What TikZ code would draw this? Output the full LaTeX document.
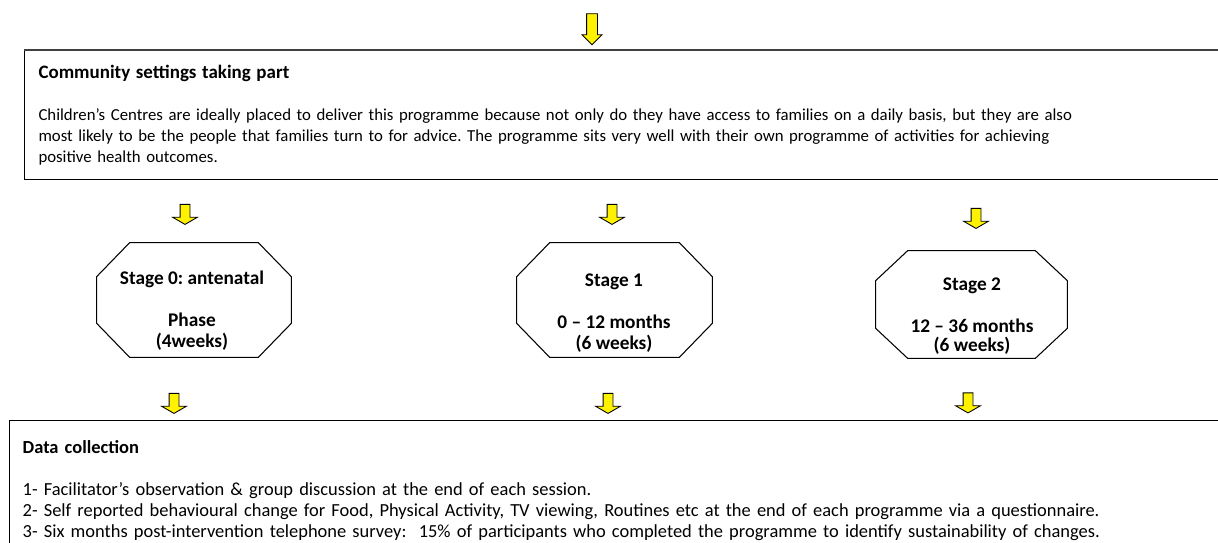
\documentclass[tikz,border=0pt]{standalone}
\usepackage{fontspec}
\setmainfont{Carlito}
\usetikzlibrary{positioning,shapes.arrows}

% octagon outline round a stage node: name, chamfer x, chamfer y
\newcommand{\stageoct}[3]{%
  \draw[line width=0.6pt] ([xshift=#2]#1.north west) -- ([xshift=-#2]#1.north east)
    -- ([yshift=-#3]#1.north east) -- ([yshift=#3]#1.south east)
    -- ([xshift=-#2]#1.south east) -- ([xshift=#2]#1.south west)
    -- ([yshift=#3]#1.south west) -- ([yshift=-#3]#1.north west) -- cycle;}

\begin{document}
\frenchspacing
\begin{tikzpicture}[x=0.02cm,y=-0.02cm,
  every node/.style={font=\fontsize{9.55}{11.9}\selectfont},
  box/.style={draw, rectangle, anchor=north west, align=left, text width=25cm, line width=0.6pt},
  stage/.style={rectangle, minimum width=3.88cm, minimum height=2.28cm, inner sep=0},
  stagetext/.style={align=center, font=\bfseries\fontsize{11}{11.9}\selectfont},
  downarr/.style={single arrow, draw, fill=yellow, shape border rotate=270, inner sep=0.09cm, minimum height=0.4cm, single arrow head extend=0.15cm, single arrow tip angle=120, line width=0.5pt}]

\path[use as bounding box, clip] (0,0) rectangle (1218,543);

% Boxes
\node (comm) [box, minimum height=2.58cm, inner xsep=0.28cm] at (24,50)
  {{\bfseries\fontsize{10.8}{11.9}\selectfont Community settings taking part}\\[11.9pt]
   Children’s Centres are ideally placed to deliver this programme because not only do they have access to families on a daily basis, but they are also\\
   most likely to be the people that families turn to for advice. The programme sits very well with their own programme of activities for achieving\\
   positive health outcomes.};
\draw[black!75, line width=1.1pt] (comm.north west) -- (comm.north east);
\node (data) [box, inner xsep=0.26cm, inner ysep=0.4cm, line width=0.8pt, font=\fontsize{10.5}{11.9}\selectfont] at (9,420)
  {\textbf{Data collection}\\[11.9pt]
   1- Facilitator’s observation \& group discussion at the end of each session.\\
   2- Self reported behavioural change for Food, Physical Activity, TV viewing, Routines etc at the end of each programme via a questionnaire.\\
   3- Six months post-intervention telephone survey:\ \ 15\% of participants who completed the programme to identify sustainability of changes.};

% Stages
\node (st0) [stage] at (194,300) {};
\node (st1) [stage, minimum width=3.9cm] at (614.5,300) {};
\node (st2) [stage, minimum width=3.82cm, minimum height=2.14cm] at (971.5,304.5) {};
\stageoct{st0}{0.66cm}{0.68cm}
\stageoct{st1}{0.66cm}{0.68cm}
\stageoct{st2}{0.64cm}{0.6cm}
\node (st0txt) [stagetext] at (192,311) {Stage 0: antenatal\\[11.9pt]Phase\\(4weeks)};
\node (st1txt) [stagetext] at (614,313) {Stage 1\\[11.9pt]0 – 12 months\\(6 weeks)};
\node (st2txt) [stagetext] at (972,316) {Stage 2\\[11.9pt]12 – 36 months\\[-0.8pt](6 weeks)};

% Arrows
\node (top) [downarr, inner sep=0.1cm, minimum height=0.62cm, single arrow head extend=0.09cm, single arrow tip angle=90] at (592,26.5) {};
\node (a0) [downarr] at (185,213) {};
\node (a1) [downarr] at (612,213) {};
\node (a2) [downarr] at (976,217) {};
\node (b0) [downarr] at (174,402) {};
\node (b1) [downarr] at (608,402) {};
\node (b2) [downarr] at (968,401.5) {};

\end{tikzpicture}
\end{document}
